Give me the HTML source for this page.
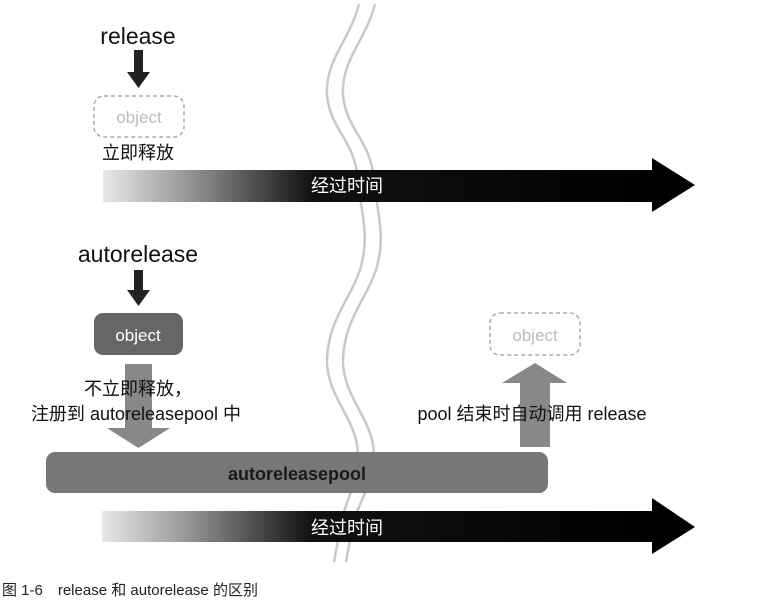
<!DOCTYPE html>
<html><head><meta charset="utf-8"><style>
body{margin:0;background:#fff;width:781px;height:607px;overflow:hidden}
svg{display:block}
text{font-family:"Liberation Sans","Noto Sans CJK SC",sans-serif}
</style></head><body>
<svg width="781" height="607" viewBox="0 0 781 607" xmlns="http://www.w3.org/2000/svg">
<defs>
<linearGradient id="g" x1="0" x2="1" y1="0" y2="0">
<stop offset="0" stop-color="#e8e8e8"/>
<stop offset="0.15" stop-color="#999"/>
<stop offset="0.38" stop-color="#111"/>
<stop offset="1" stop-color="#000"/>
</linearGradient>
</defs>
<g fill="none" stroke="#c8c8c8" stroke-width="2.5">
<path d="M359,4 C350,40 325,60 327,95 C330,130 355,140 358,180 C362,220 370,235 360,270 C350,300 328,320 327,360 C327,400 360,420 358,460 C356,490 340,510 338,540 L334,562"/>
<path d="M375,4 C366,40 341,60 343,95 C346,130 371,140 374,180 C378,220 386,235 376,270 C366,300 344,320 343,360 C343,400 376,420 374,460 C372,490 352,510 350,540 L346,562"/>
</g>
<text x="138" y="44" font-size="23" text-anchor="middle" fill="#111">release</text>
<rect x="134" y="50" width="9" height="24" fill="#222"/>
<polygon points="127,72 150,72 138.5,88" fill="#222"/>
<rect x="94" y="96" width="90" height="41" rx="10" fill="none" stroke="#aaa" stroke-width="1.5" stroke-dasharray="4,3"/>
<text x="139" y="123" font-size="17" text-anchor="middle" fill="#bbb">object</text>
<text x="138" y="159" font-size="18" text-anchor="middle" fill="#111">立即释放</text>
<rect x="103" y="170" width="550" height="32" fill="url(#g)"/>
<polygon points="652,158 652,212 695,185" fill="#000"/>
<text x="347" y="192" font-size="18" text-anchor="middle" fill="#fff">经过时间</text>
<text x="138" y="262" font-size="23" text-anchor="middle" fill="#111">autorelease</text>
<rect x="134" y="270" width="9" height="22" fill="#222"/>
<polygon points="127,290 150,290 138.5,306" fill="#222"/>
<rect x="94" y="313" width="89" height="42" rx="9" fill="#666"/>
<text x="138" y="341" font-size="17" text-anchor="middle" fill="#fff">object</text>
<rect x="125" y="364" width="27" height="66" fill="#888"/>
<polygon points="107,428 170,428 138.5,448" fill="#888"/>
<text x="138" y="395" font-size="18" text-anchor="middle" fill="#111">不立即释放，</text>
<text x="136" y="420" font-size="18" text-anchor="middle" fill="#111">注册到 autoreleasepool 中</text>
<rect x="490" y="313" width="90" height="42" rx="10" fill="none" stroke="#aaa" stroke-width="1.5" stroke-dasharray="4,3"/>
<text x="535" y="341" font-size="17" text-anchor="middle" fill="#bbb">object</text>
<rect x="520" y="382" width="30" height="65" fill="#888"/>
<polygon points="502,383 567,383 535,363" fill="#888"/>
<text x="532" y="420" font-size="18" text-anchor="middle" fill="#111">pool 结束时自动调用 release</text>
<rect x="46" y="452" width="502" height="41" rx="9" fill="#777"/>
<text x="297" y="480" font-size="18" font-weight="bold" text-anchor="middle" fill="#1a1a1a">autoreleasepool</text>
<rect x="102" y="511" width="551" height="31" fill="url(#g)"/>
<polygon points="652,498 652,554 695,527" fill="#000"/>
<text x="347" y="534" font-size="18" text-anchor="middle" fill="#fff">经过时间</text>
<text x="2" y="595" font-size="15" fill="#222">图 1-6　release 和 autorelease 的区别</text>
</svg>
</body></html>
